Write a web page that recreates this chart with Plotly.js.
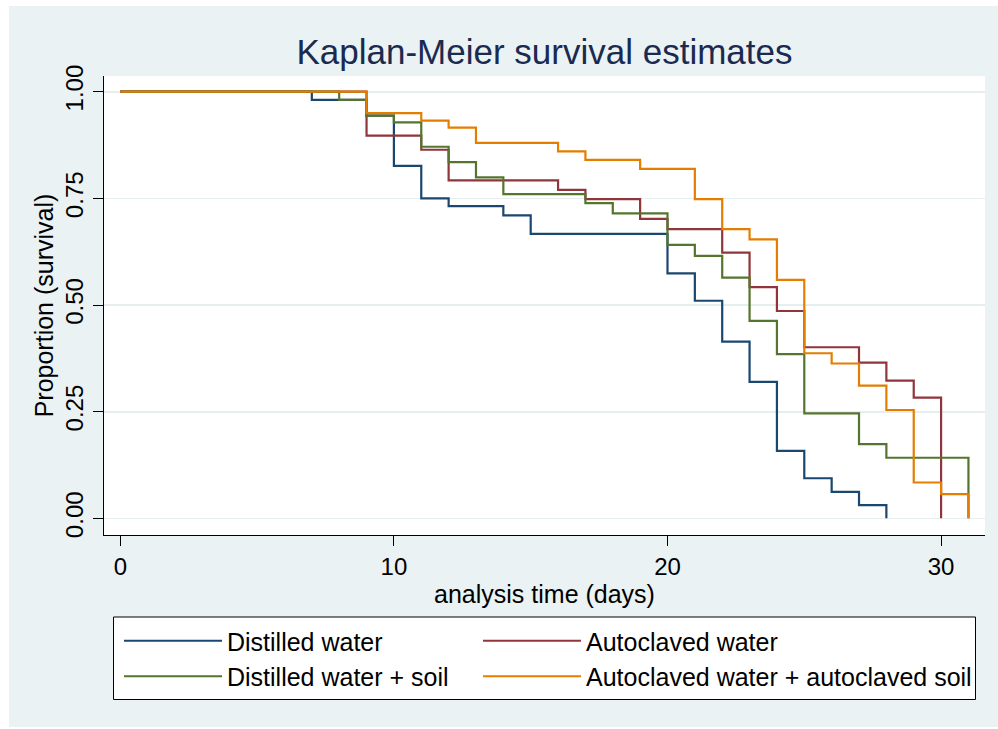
<!DOCTYPE html>
<html>
<head>
<meta charset="utf-8">
<script src="https://cdn.plot.ly/plotly-3.0.1.min.js"></script>
<style>html,body{margin:0;padding:0;background:#fff;}#chart{width:998px;height:729px;}</style>
</head>
<body>
<div id="chart"></div>
<script>
// ---- data ----
var seriesNames = ["Distilled water", "Autoclaved water", "Distilled water + soil", "Autoclaved water + autoclaved soil"];

var distilledTime = [0, 7, 9, 10, 11, 12, 14, 15, 20, 21, 22, 23, 24, 25, 26, 27, 28];
var distilledSurv = [1, 0.981, 0.944, 0.826, 0.750, 0.732, 0.710, 0.667, 0.574, 0.510, 0.414, 0.320, 0.158, 0.094, 0.062, 0.031, 0];

var autoclavedTime = [0, 9, 11, 12, 16, 17, 19, 20, 22, 23, 24, 25, 27, 28, 29, 30];
var autoclavedSurv = [1, 0.897, 0.864, 0.792, 0.770, 0.748, 0.702, 0.678, 0.623, 0.542, 0.486, 0.401, 0.365, 0.323, 0.283, 0];

var distilledSoilTime = [0, 8, 9, 10, 11, 12, 13, 14, 17, 18, 20, 21, 22, 23, 24, 25, 27, 28, 31];
var distilledSoilSurv = [1, 0.981, 0.944, 0.928, 0.871, 0.835, 0.799, 0.760, 0.739, 0.715, 0.641, 0.615, 0.564, 0.463, 0.385, 0.246, 0.174, 0.142, 0];

var autoclavedSoilTime = [0, 9, 11, 12, 13, 16, 17, 19, 21, 22, 23, 24, 25, 26, 27, 28, 29, 30, 31];
var autoclavedSoilSurv = [1, 0.950, 0.932, 0.916, 0.880, 0.860, 0.840, 0.819, 0.748, 0.678, 0.654, 0.559, 0.387, 0.363, 0.311, 0.254, 0.084, 0.057, 0];

var xTickVals = [0, 10, 20, 30];
var xTickText = ["0", "10", "20", "30"];
var yTickVals = [0, 0.25, 0.5, 0.75, 1];
var yTickText = ["0.00", "0.25", "0.50", "0.75", "1.00"];

// ---- styling ----
var colors = ["#1a476f", "#90353b", "#55752f", "#e37e00"];
var legendGroupOf = ["legend", "legend2", "legend", "legend2"];
var FONT = "Arial, 'Liberation Sans', sans-serif";
var W = 998, H = 729, ML = 104, MR = 13, MT = 76, MB = 194;
var PW = W - ML - MR, PH = H - MT - MB;
function px2x(px) { return (px - ML) / PW; }
function py2y(py) { return (H - MB - py) / PH; }

var times = [distilledTime, autoclavedTime, distilledSoilTime, autoclavedSoilTime];
var survs = [distilledSurv, autoclavedSurv, distilledSoilSurv, autoclavedSoilSurv];

var traces = seriesNames.map(function (name, i) {
  return {
    type: "scatter", mode: "lines", name: name,
    x: times[i], y: survs[i],
    line: { shape: "hv", color: colors[i], width: 2.2 },
    legend: legendGroupOf[i],
    hoverinfo: "skip"
  };
});

function legendBox(xpx) {
  return {
    orientation: "v",
    x: px2x(xpx), xanchor: "left",
    y: py2y(618), yanchor: "top",
    bgcolor: "rgba(0,0,0,0)", borderwidth: 0,
    font: { family: FONT, size: 25, color: "#000000" },
    itemwidth: 98,
    tracegroupgap: 0
  };
}

var bg = "#eaf2f3";
var layout = {
  width: W, height: H,
  margin: { l: ML, r: MR, t: MT, b: MB, pad: 0 },
  paper_bgcolor: bg,
  plot_bgcolor: "#ffffff",
  font: { family: FONT, size: 24, color: "#000000" },
  title: {
    text: "Kaplan-Meier survival estimates",
    font: { family: FONT, size: 35, color: "#1a2a50" },
    x: 0.5, xref: "paper", xanchor: "center",
    y: 1 - 52 / H, yref: "container", yanchor: "middle"
  },
  showlegend: true,
  legend: legendBox(119),
  legend2: legendBox(478),
  xaxis: {
    range: [-0.596, 31.605],
    tickvals: xTickVals, ticktext: xTickText,
    ticks: "outside", ticklen: 10, tickwidth: 1, tickcolor: "#000000",
    showline: true, linecolor: "#000000", linewidth: 1,
    showgrid: false, zeroline: false,
    tickfont: { family: FONT, size: 24, color: "#000000" },
    title: { text: "analysis time (days)", font: { family: FONT, size: 25, color: "#000000" }, standoff: 1 },
    automargin: false, fixedrange: true
  },
  yaxis: {
    range: [-0.039, 1.0368],
    tickvals: yTickVals, ticktext: yTickText,
    tickangle: -90,
    ticks: "outside", ticklen: 10, tickwidth: 1, tickcolor: "#000000",
    showline: true, linecolor: "#000000", linewidth: 1,
    showgrid: true, gridcolor: "#e6eef0", gridwidth: 1.6,
    zeroline: false,
    tickfont: { family: FONT, size: 24, color: "#000000" },
    title: { text: "Proportion (survival)", font: { family: FONT, size: 25, color: "#000000" }, standoff: 0 },
    automargin: false, fixedrange: true
  },
  shapes: [
    // legend frame
    { type: "rect", xref: "paper", yref: "paper", layer: "above",
      x0: px2x(113.5), x1: px2x(975.5), y0: py2y(699.5), y1: py2y(617),
      fillcolor: "#ffffff", line: { color: "#000000", width: 1 } },
    // white outer border of the picture
    { type: "rect", xref: "paper", yref: "paper", layer: "above",
      x0: px2x(0), x1: px2x(9), y0: py2y(H), y1: py2y(0),
      fillcolor: "#ffffff", line: { width: 0 } },
    { type: "rect", xref: "paper", yref: "paper", layer: "above",
      x0: px2x(0), x1: px2x(W), y0: py2y(6), y1: py2y(0),
      fillcolor: "#ffffff", line: { width: 0 } },
    { type: "rect", xref: "paper", yref: "paper", layer: "above",
      x0: px2x(0), x1: px2x(W), y0: py2y(H), y1: py2y(727),
      fillcolor: "#ffffff", line: { width: 0 } }
  ]
};

Plotly.newPlot("chart", traces, layout, { displayModeBar: false, staticPlot: true });
</script>
</body>
</html>
